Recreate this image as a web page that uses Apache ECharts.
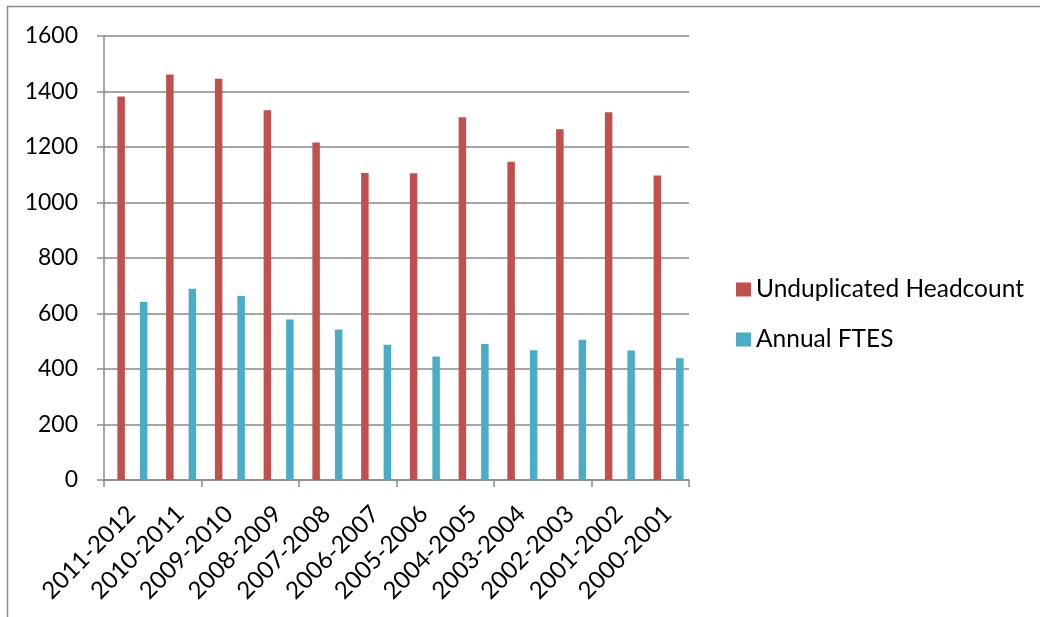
<!DOCTYPE html>
<html>
<head>
<meta charset="utf-8">
<script src="https://cdn.jsdelivr.net/npm/echarts@6/dist/echarts.min.js"></script>
<style>
html,body{margin:0;padding:0;background:#fff;}
#chart{width:1040px;height:617px;}
</style>
</head>
<body>
<div id="chart"></div>
<script>
var categories = ['2011-2012','2010-2011','2009-2010','2008-2009','2007-2008','2006-2007','2005-2006','2004-2005','2003-2004','2002-2003','2001-2002','2000-2001'];
var headcount = [1382,1461,1446,1332,1216,1106,1105,1307,1147,1264,1325,1097];
var ftes = [641,689,663,578,542,487,445,490,468,505,467,439];
var yTicks = [0,200,400,600,800,1000,1200,1400,1600];

var FONT = 'Lato';
var gridCol = '#8a8a8a';
var chart = echarts.init(document.getElementById('chart'));
var gridTop = 36, gridBottom = 137;
chart.setOption({
  animation: false,
  backgroundColor: '#fff',
  textStyle: {fontFamily: FONT},
  graphic: [{
    type: 'rect', shape: {x: 7.5, y: 6.5, width: 1100, height: 700},
    style: {fill: 'none', stroke: '#8c8c8c', lineWidth: 1.5}, silent: true
  }],
  legend: {
    orient: 'vertical', left: 731, top: 272,
    itemWidth: 15, itemHeight: 14, itemGap: 25,
    icon: 'rect',
    textStyle: {fontFamily: FONT, fontSize: 24.5, color: '#000'},
    data: ['Unduplicated Headcount', 'Annual FTES']
  },
  grid: [
    {left: 104, right: 351, top: gridTop, bottom: gridBottom},
    {left: 108, right: 347, top: gridTop, bottom: gridBottom},
    {left: 107, right: 348, top: gridTop, bottom: gridBottom}
  ],
  xAxis: [
    {gridIndex: 0, type: 'category', data: categories, boundaryGap: true,
     axisLine: {lineStyle: {color: gridCol, width: 1.5}},
     axisTick: {show: true, length: 7, lineStyle: {color: gridCol, width: 1.5}},
     axisLabel: {show: false}, splitLine: {show: false}},
    {gridIndex: 1, type: 'category', data: categories, show: false},
    {gridIndex: 2, type: 'category', data: categories,
     axisLine: {show: false}, axisTick: {show: false}, splitLine: {show: false},
     axisLabel: {rotate: 45, interval: 0, fontFamily: FONT, fontSize: 24, color: '#000', margin: 30}}
  ],
  yAxis: [
    {gridIndex: 0, type: 'value', min: 0, max: 1600, interval: 200,
     axisLine: {show: true, lineStyle: {color: gridCol, width: 1.5}},
     axisTick: {show: true, length: 7, lineStyle: {color: gridCol, width: 1.5}},
     splitLine: {show: true, lineStyle: {color: gridCol, width: 1.5}},
     axisLabel: {fontFamily: FONT, fontSize: 23, color: '#000', margin: 26,
       formatter: function(v){ return yTicks.indexOf(v) >= 0 ? String(v) : ''; }}},
    {gridIndex: 1, type: 'value', min: 0, max: 1600, interval: 200, show: false, splitLine: {show: false}},
    {gridIndex: 2, type: 'value', min: 0, max: 1600, interval: 200, show: false, splitLine: {show: false}}
  ],
  series: [
    {name: 'Unduplicated Headcount', type: 'bar', xAxisIndex: 1, yAxisIndex: 1,
     data: headcount, barWidth: 7.5, barGap: '200%', itemStyle: {color: '#C0504D'}},
    {name: 'Annual FTES', type: 'bar', xAxisIndex: 1, yAxisIndex: 1,
     data: ftes, barWidth: 7.5, barGap: '200%', itemStyle: {color: '#4BACC6'}}
  ]
});
</script>
</body>
</html>
